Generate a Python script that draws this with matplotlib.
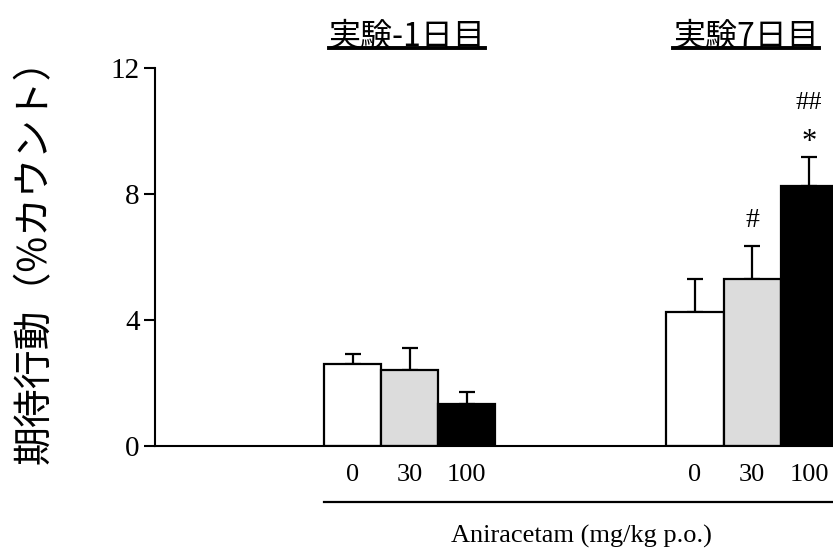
import matplotlib
matplotlib.use("Agg")
import matplotlib.pyplot as plt
from matplotlib.lines import Line2D

CJK = ["Noto Sans CJK JP", "DejaVu Sans"]
SERIF = ["Liberation Serif", "DejaVu Serif"]

# data
doses = ["0", "30", "100"]
day_titles = ["実験-1日目", "実験7日目"]
day_m1_mean = [2.6, 2.4, 1.33]
day_m1_sem = [0.32, 0.7, 0.37]
day_7_mean = [4.24, 5.3, 8.25]
day_7_sem = [1.06, 1.05, 0.93]
day_7_marks = ["", "#", "*"]
day_7_marks_top = ["", "", "##"]

colors = ["white", "#dcdcdc", "black"]
positions_m1 = [0, 1, 2]
positions_7 = [6, 7, 8]

fig = plt.figure(figsize=(8.33, 5.49), dpi=100)
ax = fig.add_axes([155 / 833, 1 - 446 / 549, 1 - 155 / 833, 378 / 549])

for pos, means, sems in [(positions_m1, day_m1_mean, day_m1_sem),
                         (positions_7, day_7_mean, day_7_sem)]:
    ax.bar(pos, means, width=1.0, color=colors, edgecolor="black",
           linewidth=1.6, zorder=2)
    ax.errorbar(pos, means, yerr=[[0] * len(sems), sems], fmt="none",
                ecolor="black", elinewidth=1.6, capsize=6, capthick=1.6,
                zorder=1)

# significance marks
for x, m, s, lab in zip(positions_7, day_7_mean, day_7_sem, day_7_marks):
    if lab == "#":
        ax.text(x, m + s + 0.4, lab, ha="center", va="bottom",
                fontsize=20, family=SERIF)
    elif lab == "*":
        ax.text(x, m + s + 0.0, lab, ha="center", va="bottom",
                fontsize=22, family=SERIF)
for x, m, s, lab in zip(positions_7, day_7_mean, day_7_sem, day_7_marks_top):
    if lab:
        ax.text(x, m + s + 1.35, lab, ha="center", va="bottom",
                fontsize=19, family=SERIF)

ax.set_xlim(-3.47, 8.42)
ax.set_ylim(0, 12)
ax.set_yticks([0, 4, 8, 12])
ax.set_yticklabels(["0", "4", "8", "12"], family=SERIF, fontsize=21)
ax.tick_params(axis="y", direction="out", length=8, width=1.5, pad=3)
ax.set_xticks(positions_m1 + positions_7)
ax.set_xticklabels(doses + doses, family=SERIF, fontsize=19)
ax.tick_params(axis="x", length=0, pad=13)
for s in ["top", "right"]:
    ax.spines[s].set_visible(False)
ax.spines["left"].set_linewidth(1.5)
ax.spines["bottom"].set_linewidth(1.5)

# line under the dose labels and drug label
tr = ax.get_xaxis_transform()
ax.plot([-0.5, 8.42], [-0.148, -0.148], color="black", lw=1.6,
        transform=tr, clip_on=False)
ax.text(4.0, -0.24, "Aniracetam (mg/kg p.o.)", transform=tr, ha="center",
        va="center", fontsize=19, family=SERIF)

# day titles with underline
titles = []
for x, t in zip([0.95, 6.9], day_titles):
    titles.append(ax.text(x, 1.082, t, transform=tr, ha="center",
                          va="center", fontsize=23, family=CJK))

fig.text(35 / 833, 1 - 252 / 549, "期待行動（%カウント）", rotation=90,
         ha="center", va="center", fontsize=28, family=CJK)

fig.canvas.draw()
inv = fig.transFigure.inverted()
for t in titles:
    bb = t.get_window_extent()
    (x0, y0) = inv.transform((bb.x0, bb.y0 + 5))
    (x1, _) = inv.transform((bb.x1, bb.y0))
    fig.add_artist(Line2D([x0, x1], [y0, y0], color="black", lw=2.8,
                          transform=fig.transFigure))

fig.savefig("out.png", dpi=100)
